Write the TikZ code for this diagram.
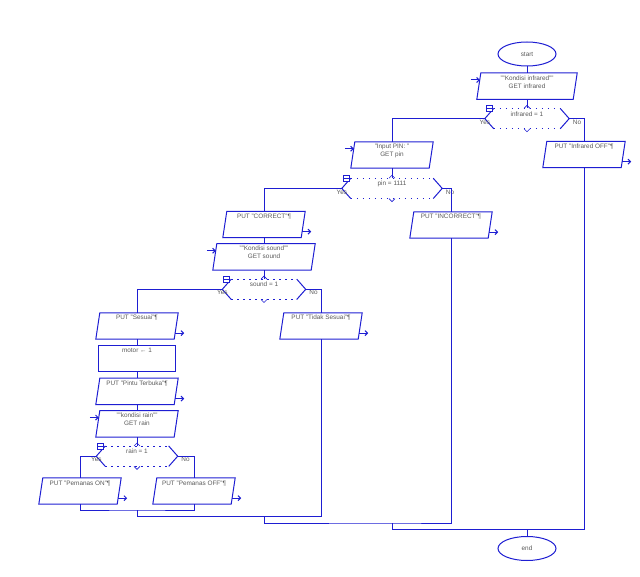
\documentclass[tikz,border=0pt]{standalone}
\usepackage{fontspec}
\setmainfont{Liberation Sans}
\usepackage{xcolor,tikz}
\usetikzlibrary{arrows.meta,positioning,calc,shapes.geometric}
\definecolor{rpLine}{HTML}{1E1ED2}
\definecolor{rpText}{HTML}{5A5A5A}

\begin{document}
\begin{tikzpicture}[x=1pt,y=-1pt,node distance=6pt,
  ln/.style={draw=rpLine,line width=1pt},
  txt/.style={text=rpText,font=\fontsize{6.4}{8}\selectfont},
  lbl/.style={txt,inner sep=0.5pt},
  term/.style={ellipse,draw=rpLine,line width=1pt,minimum width=58pt,minimum height=24pt,inner sep=0pt,txt},
  iobox/.style={rectangle,txt,minimum width=#1,inner xsep=0pt,inner ysep=2pt,text height=5pt,text depth=17pt},
  inbox/.style={rectangle,txt,align=center,minimum width=#1,inner xsep=0pt,inner ysep=2pt,text height=13pt,text depth=9pt},
  act/.style={rectangle,draw=rpLine,line width=1pt,txt,minimum width=77pt,inner xsep=0pt,inner ysep=2pt,text height=5pt,text depth=17pt},
  dec/.style={rectangle,txt,minimum width=#1,inner xsep=0pt,inner ysep=2.5pt,text height=5pt,text depth=10pt},
  outarr/.style={ln,-{Straight Barb[length=2.5pt,width=5pt]}}]
\useasboundingbox (0,0) rectangle (640,577);
\node[term] (start) at (527,54) {start};
\node[inbox=96,below=6.5pt of start] (ir) {""Kondisi infrared""\\GET infrared};
\node[dec=84,below=9pt of ir] (irdec) {infrared = 1};
\node[iobox=78] (iroff) at (584,154.5) {PUT "Infrared OFF"¶};
\node[inbox=78] (pin) at (392,155) {"Input PIN: "\\GET pin};
\node[dec=100,below=10pt of pin] (pindec) {pin = 1111};
\node[iobox=78] (correct) at (264,224.5) {PUT "CORRECT"¶};
\node[inbox=98,below=of correct] (snd) {""Kondisi sound""\\GET sound};
\node[dec=83,below=9pt of snd] (snddec) {sound = 1};
\node[iobox=78] (incorrect) at (451,225) {PUT "INCORRECT"¶};
\node[iobox=78] (sesuai) at (137,326) {PUT "Sesuai"¶};
\node[act,below=of sesuai] (motor) {motor ← 1};
\node[iobox=78,below=of motor] (pintu) {PUT "Pintu Terbuka"¶};
\node[inbox=78,below=of pintu] (rain) {""kondisi rain""\\GET rain};
\node[dec=81,below=9pt of rain] (raindec) {rain = 1};
\node[iobox=78] (tidak) at (321,326) {PUT "Tidak Sesuai"¶};
\node[iobox=78] (pon) at (80,491) {PUT "Pemanas ON"¶};
\node[iobox=78] (poff) at (194,491) {PUT "Pemanas OFF"¶};
\node[term] (end) at (527,548.5) {end};

\foreach \n in {ir,iroff,pin,correct,snd,incorrect,sesuai,pintu,rain,tidak,pon,poff}
  \draw[ln] ([xshift=-2pt]\n.south west) -- ([xshift=2pt]\n.north west)
    -- ([xshift=2pt]\n.north east) -- ([xshift=-2pt]\n.south east) -- cycle;
\foreach \n in {iroff,correct,incorrect,sesuai,pintu,tidak,pon,poff}
  \draw[outarr] ([xshift=-1pt,yshift=6pt]\n.south east) -- ++(9,0);
\foreach \n in {ir,pin,snd,rain}
  \draw[outarr] ([xshift=-8pt,yshift=-7pt]\n.north west) -- ++(9,0);
\foreach \d in {irdec,pindec,snddec,raindec}{
  \draw[ln] ([xshift=9pt]\d.north west) -- (\d.west) -- ([xshift=9pt]\d.south west);
  \draw[ln] ([xshift=-9pt]\d.north east) -- (\d.east) -- ([xshift=-9pt]\d.south east);
  \draw[ln,dash pattern=on 1.2pt off 4.8pt] ([xshift=9pt]\d.north west) -- ([xshift=-9pt]\d.north east);
  \draw[ln,dash pattern=on 1.2pt off 4.8pt] ([xshift=9pt]\d.south west) -- ([xshift=-9pt]\d.south east);
  \draw[ln,line width=0.6pt] ([xshift=-3pt]\d.north) -- ([yshift=3pt]\d.north) -- ([xshift=3pt]\d.north);
  \draw[ln,line width=0.6pt] ([xshift=-3pt]\d.south) -- ([yshift=-3pt]\d.south) -- ([xshift=3pt]\d.south);
  \draw[ln,line width=0.6pt,fill=white] ([xshift=1pt,yshift=3pt]\d.north west) rectangle ([xshift=7pt,yshift=-3pt]\d.north west);
  \draw[ln,line width=0.6pt] ([xshift=1pt]\d.north west) -- ([xshift=7pt]\d.north west);
}
\node[lbl,below=0.5pt of irdec.west] (iryes) {Yes};
\node[lbl,below right=0.5pt and 3pt of irdec.east] (irno) {No};
\node[lbl,below=0.5pt of pindec.west] (pinyes) {Yes};
\node[lbl,below right=0.5pt and 3pt of pindec.east] (pinno) {No};
\node[lbl,below=0.5pt of snddec.west] (sndyes) {Yes};
\node[lbl,below right=0.5pt and 3pt of snddec.east] (sndno) {No};
\node[lbl,below=0.5pt of raindec.west] (rainyes) {Yes};
\node[lbl,below right=0.5pt and 3pt of raindec.east] (rainno) {No};

\draw[ln] (start.south) -- (ir.north);
\draw[ln] (ir.south) -- (irdec.north);
\draw[ln] (irdec.west) -| (pin.north);
\draw[ln] (irdec.east) -| (iroff.north);
\draw[ln] (pin.south) -- (pindec.north);
\draw[ln] (pindec.west) -| (correct.north);
\draw[ln] (pindec.east) -| (incorrect.north);
\draw[ln] (correct.south) -- (snd.north);
\draw[ln] (snd.south) -- (snddec.north);
\draw[ln] (snddec.west) -| (sesuai.north);
\draw[ln] (snddec.east) -| (tidak.north);
\draw[ln] (sesuai.south) -- (motor.north);
\draw[ln] (motor.south) -- (pintu.north);
\draw[ln] (pintu.south) -- (rain.north);
\draw[ln] (rain.south) -- (raindec.north);
\draw[ln] (raindec.west) -| (pon.north);
\draw[ln] (raindec.east) -| (poff.north);

\coordinate (jrain) at (137,510);
\coordinate (jsnd) at (264,516.5);
\coordinate (jpin) at (392,523);
\coordinate (jir) at (527,529.5);
\draw[ln] (pon.south) |- (jrain) -| (poff.south);
\draw[ln] (jrain) |- (jsnd) -| (tidak.south);
\draw[ln] (jsnd) |- (jpin) -| (incorrect.south);
\draw[ln] (jpin) |- (jir) -| (iroff.south);
\draw[ln] (jir) -- (end.north);
\end{tikzpicture}
\end{document}
